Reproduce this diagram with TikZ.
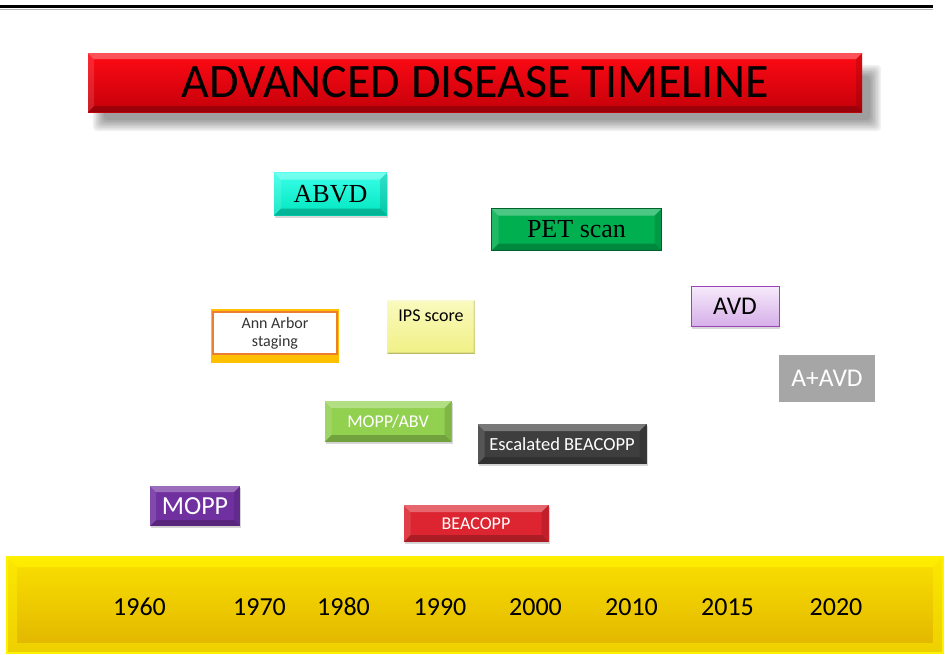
\documentclass[tikz,border=0pt]{standalone}
\usepackage{fontspec}
\setmainfont{Carlito}
\newfontfamily\garfont{Liberation Serif}
\usetikzlibrary{shadows,calc}
\definecolor{cyanA}{HTML}{3AFFEA}
\definecolor{cyanB}{HTML}{00E6BE}
\definecolor{petgreen}{HTML}{00B050}
\definecolor{petdark}{HTML}{00602C}
\definecolor{annorange}{HTML}{ED7D31}
\definecolor{anngold}{HTML}{FFC000}
\definecolor{ipsA}{HTML}{FAFAC0}
\definecolor{ipsB}{HTML}{F0F084}
\definecolor{avdA}{HTML}{F6EAFB}
\definecolor{avdB}{HTML}{D6AEE8}
\definecolor{avdborder}{HTML}{9A44B8}
\definecolor{aavdgray}{HTML}{A6A6A6}
\definecolor{moppabv}{HTML}{92D050}
\definecolor{escgray}{HTML}{3E3E3E}
\definecolor{mopppurple}{HTML}{7030A0}
\definecolor{beared}{HTML}{DC2530}
\definecolor{tlA}{HTML}{FAE000}
\definecolor{tlB}{HTML}{E0B400}
\definecolor{titleA}{HTML}{FF0A14}
\definecolor{titleB}{HTML}{C4000A}
\tikzset{
  wh/.style 2 args={minimum width=#1pt, minimum height=#2pt, inner sep=0pt, outer sep=0pt},
  bev/.style={path picture={
    \fill[white,opacity=.30] (path picture bounding box.north west) -- (path picture bounding box.north east)
      -- ([shift={(-#1,-#1)}]path picture bounding box.north east) -- ([shift={(#1,-#1)}]path picture bounding box.north west) -- cycle;
    \fill[black,opacity=.22] (path picture bounding box.south west) -- (path picture bounding box.south east)
      -- ([shift={(-#1,#1)}]path picture bounding box.south east) -- ([shift={(#1,#1)}]path picture bounding box.south west) -- cycle;
    \fill[white,opacity=.12] (path picture bounding box.north west) -- (path picture bounding box.south west)
      -- ([shift={(#1,#1)}]path picture bounding box.south west) -- ([shift={(#1,-#1)}]path picture bounding box.north west) -- cycle;
    \fill[black,opacity=.12] (path picture bounding box.north east) -- (path picture bounding box.south east)
      -- ([shift={(-#1,#1)}]path picture bounding box.south east) -- ([shift={(-#1,-#1)}]path picture bounding box.north east) -- cycle;
  }},
  barbev/.style={path picture={
    \fill[yellow,opacity=.75] (path picture bounding box.north west) -- (path picture bounding box.north east)
      -- ([shift={(-#1,-#1)}]path picture bounding box.north east) -- ([shift={(#1,-#1)}]path picture bounding box.north west) -- cycle;
    \fill[yellow,opacity=.45] (path picture bounding box.south west) -- (path picture bounding box.south east)
      -- ([shift={(-#1,#1)}]path picture bounding box.south east) -- ([shift={(#1,#1)}]path picture bounding box.south west) -- cycle;
    \fill[yellow,opacity=.45] (path picture bounding box.north west) -- (path picture bounding box.south west)
      -- ([shift={(#1,#1)}]path picture bounding box.south west) -- ([shift={(#1,-#1)}]path picture bounding box.north west) -- cycle;
    \fill[yellow,opacity=.45] (path picture bounding box.north east) -- (path picture bounding box.south east)
      -- ([shift={(-#1,#1)}]path picture bounding box.south east) -- ([shift={(-#1,-#1)}]path picture bounding box.north east) -- cycle;
  }},
  shad/.style={drop shadow={opacity=.30, shadow xshift=1pt, shadow yshift=-2pt}},
  wtext/.style={text=white},
  yr/.style={font=\fontsize{26}{28}\selectfont, text=black, anchor=base, inner sep=0pt}
}
\begin{document}
\begin{tikzpicture}[x=1pt,y=-1pt]
\useasboundingbox[fill=white] (0,0) rectangle (946,654);
% top rule
\draw[line width=3.5pt] (0,6.5) -- (933,6.5);
\draw[gray!60, line width=0.6pt] (0,9.5) -- (933,9.5);
% title shadow (soft)
\foreach \i in {0,...,7}{
  \fill[black,opacity=.055, rounded corners=4pt] (104-\i*1.6,76-\i*1.6) rectangle (870+\i*1.6,120+\i*1.6);
}
\node[wh={774}{59}, top color=titleA, bottom color=titleB, bev=6pt,
      font=\fontsize{48}{50}\selectfont] (title) at (475,82.5) {ADVANCED DISEASE TIMELINE};

% ABVD
\node[wh={113}{43}, top color=cyanA, bottom color=cyanB, bev=7pt, shad,
      font=\garfont\fontsize{26}{28}\selectfont] (abvd) at (330.5,194) {ABVD};
% PET scan
\node[wh={170}{42}, fill=petgreen, draw=petdark, line width=1.5pt, bev=7pt,
      font=\garfont\fontsize{26}{28}\selectfont] (pet) at (576.5,229.5) {PET scan};
% Ann Arbor staging
\node[wh={128}{54}, fill=anngold] (annbg) at (275,336) {};
\node[wh={124}{42}, fill=white, draw=annorange, line width=2.5pt] (annbox) at (275,333) {};
\node[align=center, text=black!80, font=\fontsize{16}{18}\selectfont, inner sep=0pt] (anntext) at (275,333.5) {Ann Arbor\\staging};
% IPS score
\node[wh={91}{57}, top color=ipsA, bottom color=ipsB, draw=white, line width=3pt, bev=3pt,
      drop shadow={opacity=.25, shadow xshift=1pt, shadow yshift=-1.5pt}] (ips) at (431,327) {};
\node[font=\fontsize{18}{20}\selectfont, inner sep=0pt] (ipstext) at (431,316) {IPS score};
% AVD
\node[wh={88}{40}, top color=avdA, bottom color=avdB, draw=avdborder, line width=0.8pt, shad,
      font=\fontsize{25.5}{27}\selectfont] (avd) at (735,306.5) {AVD};
% A+AVD
\node[wh={96}{47}, fill=aavdgray, wtext, font=\fontsize{25.5}{27}\selectfont] (aavd) at (827,378) {A+AVD};
% MOPP/ABV
\node[wh={127}{41}, fill=moppabv, bev=7pt, shad, wtext, font=\fontsize{18}{20}\selectfont] (moppabv) at (388,421.5) {MOPP/ABV};
% Escalated BEACOPP
\node[wh={169}{40}, fill=escgray, bev=7pt, shad, wtext, font=\fontsize{18.5}{20}\selectfont] (esc) at (562,444) {Escalated BEACOPP};
% MOPP
\node[wh={90}{40}, fill=mopppurple, bev=6pt, shad, wtext, font=\fontsize{26}{28}\selectfont] (mopp) at (195,506) {MOPP};
% BEACOPP
\node[wh={145}{37}, fill=beared, bev=7pt, shad, wtext, font=\fontsize{18}{20}\selectfont] (beacopp) at (476,523.5) {BEACOPP};

% timeline bar
\node[wh={936}{96}, top color=tlA, bottom color=tlB, draw=yellow, line width=2pt, barbev=10pt] (bar) at (475,605) {};
\node[yr] (y1960) at (139.5,615) {1960};
\node[yr] (y1970) at (259.5,615) {1970};
\node[yr] (y1980) at (343.5,615) {1980};
\node[yr] (y1990) at (440,615) {1990};
\node[yr] (y2000) at (535.5,615) {2000};
\node[yr] (y2010) at (631.5,615) {2010};
\node[yr] (y2015) at (727.5,615) {2015};
\node[yr] (y2020) at (836,615) {2020};
\end{tikzpicture}
\end{document}
